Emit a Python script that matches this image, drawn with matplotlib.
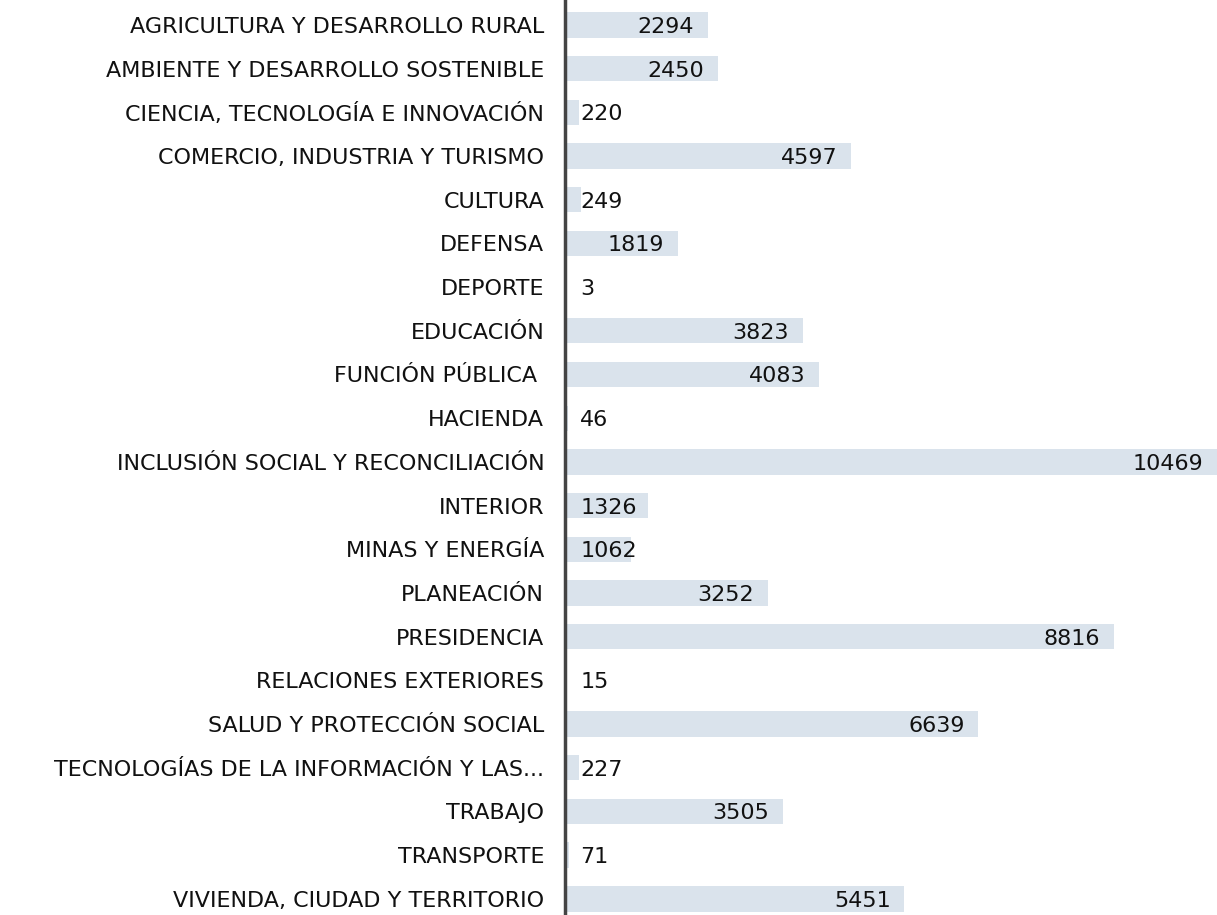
import matplotlib.pyplot as plt

categories = [
    "AGRICULTURA Y DESARROLLO RURAL",
    "AMBIENTE Y DESARROLLO SOSTENIBLE",
    "CIENCIA, TECNOLOGÍA E INNOVACIÓN",
    "COMERCIO, INDUSTRIA Y TURISMO",
    "CULTURA",
    "DEFENSA",
    "DEPORTE",
    "EDUCACIÓN",
    "FUNCIÓN PÚBLICA ",
    "HACIENDA",
    "INCLUSIÓN SOCIAL Y RECONCILIACIÓN",
    "INTERIOR",
    "MINAS Y ENERGÍA",
    "PLANEACIÓN",
    "PRESIDENCIA",
    "RELACIONES EXTERIORES",
    "SALUD Y PROTECCIÓN SOCIAL",
    "TECNOLOGÍAS DE LA INFORMACIÓN Y LAS...",
    "TRABAJO",
    "TRANSPORTE",
    "VIVIENDA, CIUDAD Y TERRITORIO",
]
values = [2294, 2450, 220, 4597, 249, 1819, 3, 3823, 4083, 46, 10469,
          1326, 1062, 3252, 8816, 15, 6639, 227, 3505, 71, 5451]

plt.rcParams['font.family'] = ['DejaVu Sans']

fig = plt.figure(figsize=(12.17, 9.15), dpi=100)
ax = fig.add_axes([565 / 1217, 0, 1 - 565 / 1217, 1])

y = list(range(len(categories)))
ax.barh(y, values, height=0.58, color='#dae3ec')
ax.set_xlim(0, max(values))
ax.set_ylim(len(categories) - 1 + 0.37, -0.57)

ax.set_yticks(y)
ax.set_yticklabels(categories, fontsize=16, color='#111111')
ax.tick_params(axis='y', length=0, pad=15)
ax.set_xticks([])
for s in ['top', 'right', 'bottom']:
    ax.spines[s].set_visible(False)
ax.spines['left'].set_color('#444444')
ax.spines['left'].set_linewidth(2.5)

for yi, v in zip(y, values):
    if v < 1400:
        ax.annotate(str(v), (0, yi), xytext=(11, 0), textcoords='offset points',
                    ha='left', va='center_baseline', fontsize=16, color='#111111')
    else:
        ax.annotate(str(v), (v, yi), xytext=(-10, 0), textcoords='offset points',
                    ha='right', va='center_baseline', fontsize=16, color='#111111')

plt.savefig('out.png', dpi=100)
